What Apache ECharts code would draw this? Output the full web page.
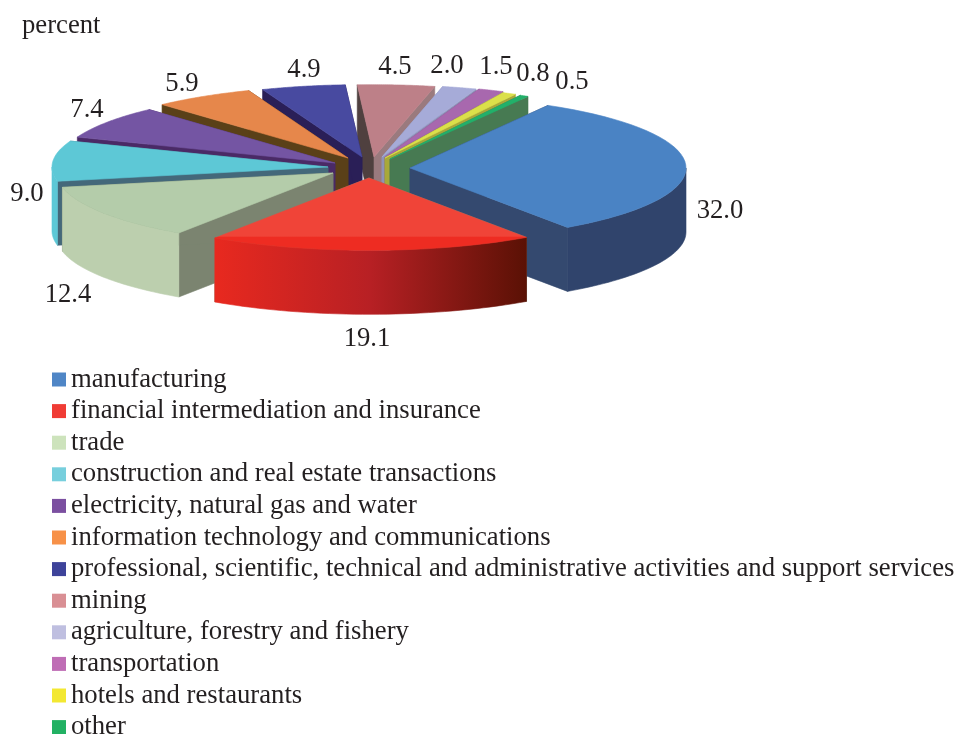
<!DOCTYPE html>
<html>
<head>
<meta charset="utf-8">
<script src="https://cdn.jsdelivr.net/npm/echarts@6/dist/echarts.min.js"></script>
<style>html,body{margin:0;background:#fff}#chart{width:958px;height:734px}</style>
</head>
<body>
<div id="chart"></div>
<script>
// share of each sector, percent
var categories = ['manufacturing', 'financial intermediation and insurance', 'trade',
    'construction and real estate transactions', 'electricity, natural gas and water',
    'information technology and communications',
    'professional, scientific, technical and administrative activities and support services',
    'mining', 'agriculture, forestry and fishery', 'transportation', 'hotels and restaurants', 'other'];
var shares = [32.0, 19.1, 12.4, 9.0, 7.4, 5.9, 4.9, 4.5, 2.0, 1.5, 0.8, 0.5];

// colours
var legendColors = ['#4f86c6', '#f03c35', '#cde3bc', '#77cfdd', '#7b4fa0', '#f79148', '#3e439a', '#d98f94', '#bfbfe0', '#bf6db5', '#f3e832', '#22b163'];
var topColors = ['#4a83c4', '#f04438', '#b4ccaa', '#5dc8d6', '#7455a3', '#e6874b', '#484aa0', '#bd8088', '#a6abd8', '#a868ae', '#dbe04a', '#22b06a'];
var cutColors = ['#34496f', '#7b8470', '#7b8470', '#44687a', '#4a2a66', '#5a4018', '#2a1f57', '#9a7a7e', '#8f93b8', '#7f5a8e', '#a8a83a', '#477a52'];
var cutStartColors = ['#34496f', '#7b8470', '#7b8470', '#44687a', '#4a2a66', '#5a4018', '#2a1f57', '#4f403f', '#8f93b8', '#7f5a8e', '#a8a83a', '#477a52'];
var wallColors = ['#30446c', null, '#bccfae', '#5dc8d6', '#4a2a66', '#5a4018', '#2a1f57', '#9a7a7e', '#8f93b8', '#7f5a8e', '#a8a83a', '#477a52'];

// how the pie is laid out on the page
var cx = 370, cy = 170, R = 276, ky = 0.262, wallH = 64, startDeg = 30;
var shifts = [[40, -2], [-1, 8], [-37, 3], [-42, -3], [-35, -7], [-22, -12], [-8, -13], [4, -13], [12, -13], [15, -13], [15, -12], [20, -11]];
var labelSpots = [[720, 211], [367, 339], [68, 295], [27, 194], [87, 110], [182, 84], [304, 70], [395, 67], [447, 66], [496, 67], [533, 74], [572, 82]];

var fontSize = 26.7;
var labelFont = fontSize + 'px "Liberation Serif"';
var total = shares.reduce(function (a, b) { return a + b; }, 0);
var starts = [];
shares.reduce(function (acc, v, i) { starts[i] = acc; return acc + v; }, 0);

function rim(i, deg, down) {
    var r = deg * Math.PI / 180;
    return [cx + shifts[i][0] + R * Math.sin(r), cy + shifts[i][1] - R * ky * Math.cos(r) + (down || 0)];
}
function poly(pts, fill, z2) {
    return { type: 'polygon', z2: z2, shape: { points: pts }, style: { fill: fill, stroke: fill, lineWidth: 0.6 } };
}
function redWall() {
    return new echarts.graphic.LinearGradient(0, 0, 1, 0, [
        { offset: 0, color: '#e8291f' }, { offset: 0.5, color: '#b72024' }, { offset: 1, color: '#5a1105' }]);
}
function topFill(i) {
    if (i !== 1) return topColors[i];
    return new echarts.graphic.LinearGradient(0, 0, 0, 1, [
        { offset: 0, color: '#f04438' }, { offset: 0.8, color: '#f04438' },
        { offset: 0.82, color: '#ee2c22' }, { offset: 1, color: '#ee2c22' }]);
}

function renderSlice(i) {
    return function (params, api) {
        var a = startDeg + starts[i] / total * 360;
        var b = a + api.value(0) / total * 360;
        var o = [cx + shifts[i][0], cy + shifts[i][1]];
        var oLow = [o[0], o[1] + wallH];
        var kids = [];
        // the two cut faces
        kids.push(poly([o, rim(i, a), rim(i, a, wallH), oLow], cutStartColors[i], 1));
        kids.push(poly([o, rim(i, b), rim(i, b, wallH), oLow], cutColors[i], 1));
        // outer wall, only the part facing us
        var from = Math.max(a, 90), to = Math.min(b, 270);
        if (to > from) {
            var upper = [], lower = [];
            for (var d = from; d <= to + 0.001; d += (to - from) / 40) {
                upper.push(rim(i, d));
                lower.unshift(rim(i, d, wallH));
            }
            kids.push(poly(upper.concat(lower), wallColors[i] || redWall(), 2));
        }
        // top face
        var top = [o];
        for (var k = 0; k <= 40; k++) top.push(rim(i, a + (b - a) * k / 40));
        kids.push(poly(top, topFill(i), 3));
        return { type: 'group', children: kids };
    };
}

var series = categories.map(function (name, i) {
    var mid = startDeg + (starts[i] + shares[i] / 2) / total * 360;
    return {
        name: name,
        type: 'custom',
        coordinateSystem: 'none',
        z: 10 - Math.cos(mid * Math.PI / 180) * 5,
        itemStyle: { color: legendColors[i] },
        renderItem: renderSlice(i),
        data: [[shares[i]]],
        silent: true
    };
});

var chart = echarts.init(document.getElementById('chart'));
chart.setOption({
    animation: false,
    backgroundColor: '#fff',
    title: {
        text: 'percent', left: 22, top: 12, padding: 0,
        textStyle: { fontFamily: 'Liberation Serif', fontSize: fontSize, fontWeight: 'normal', color: '#231f20' }
    },
    legend: {
        data: categories, orient: 'vertical', left: 52, top: 366, height: 420, padding: 0,
        icon: 'rect', itemWidth: 14, itemHeight: 14, itemGap: 4.6, selectedMode: false,
        textStyle: { fontFamily: 'Liberation Serif', fontSize: fontSize, color: '#231f20' }
    },
    graphic: labelSpots.map(function (p, i) {
        return { type: 'text', x: p[0], y: p[1], z: 50, style: {
            text: shares[i].toFixed(1), font: labelFont, fill: '#231f20', align: 'center', verticalAlign: 'middle' } };
    }),
    series: series
});
</script>
</body>
</html>
